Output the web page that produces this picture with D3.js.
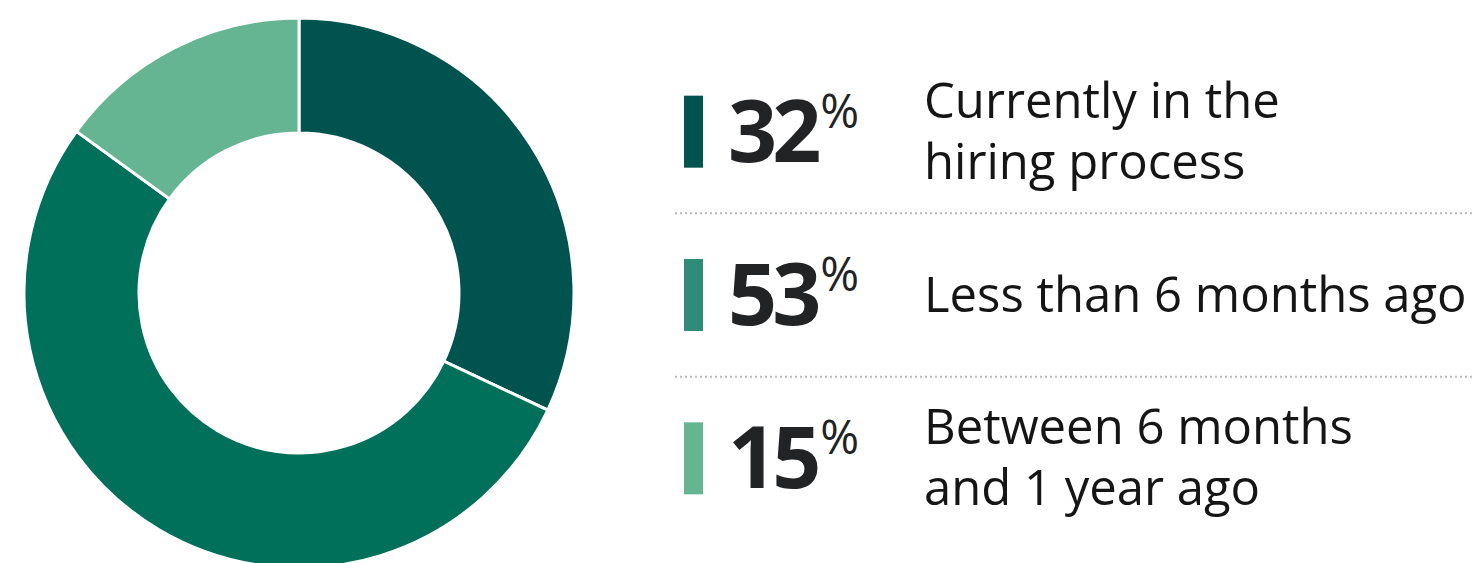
<!DOCTYPE html>
<html>
<head>
<meta charset="utf-8">
<script src="https://cdn.jsdelivr.net/npm/d3@7"></script>
<style>
  body { margin: 0; background: #fff; }
  svg { display: block; }
  text { font-family: "Open Sans", sans-serif; fill: #222325; }
  text.label { fill: #151515; }
</style>
</head>
<body>
<div id="chart"></div>
<script>
// data
const categories = ["Currently in the|hiring process", "Less than 6 months ago", "Between 6 months|and 1 year ago"]
const values = [32, 53, 15]
const sliceColors = ["#00534e", "#00705a", "#66b592"]
const keyColors = ["#00534e", "#2e8c78", "#66b592"]

const width = 1475
const height = 563

const svg = d3.select("#chart")
  .append("svg")
    .attr("width", width)
    .attr("height", height)

// donut
const cx = 299
const cy = 293
const outerR = 275
const innerR = 160

const pie = d3.pie().sort(null).value(d => d)
const arc = d3.arc().innerRadius(innerR).outerRadius(outerR)

svg.append("g")
  .attr("transform", "translate(" + cx + "," + cy + ")")
  .selectAll("path")
  .data(pie(values))
  .enter().append("path")
    .attr("d", arc)
    .attr("fill", (d, i) => sliceColors[i])
    .attr("stroke", "#fff")
    .attr("stroke-width", 3)

// legend rows
const rowY = d3.scaleBand()
  .domain(d3.range(values.length))
  .range([50, 540])

const legend = svg.append("g")

const rows = legend.selectAll("g.row")
  .data(values)
  .enter().append("g")
    .attr("class", "row")
    .attr("transform", (d, i) => "translate(0," + (rowY(i) + rowY.bandwidth() / 2) + ")")

rows.append("rect")
  .attr("x", 684)
  .attr("y", -36)
  .attr("width", 19)
  .attr("height", 72)
  .attr("fill", (d, i) => keyColors[i])

const num = rows.append("text")
  .attr("x", 728)
  .attr("y", 30)
  .style("font-weight", 700)
  .style("font-size", "86px")
  .style("letter-spacing", "-5px")
num.append("tspan").text(d => d)
num.append("tspan")
  .attr("dy", -34)
  .attr("dx", 4)
  .style("font-weight", 400)
  .style("font-size", "47px")
  .style("letter-spacing", "0px")
  .text("%")

rows.each(function(d, i) {
  const lines = categories[i].split("|")
  const t = d3.select(this).append("text")
    .attr("class", "label")
    .attr("x", 924)
    .style("font-size", "49px")
  lines.forEach((line, j) => {
    t.append("tspan")
      .attr("x", 924)
      .attr("y", lines.length === 1 ? 17 : (j === 0 ? -14 : 47))
      .text(line)
  })
})

// dotted separators
legend.selectAll("line.sep")
  .data(d3.range(1, values.length))
  .enter().append("line")
    .attr("class", "sep")
    .attr("x1", 675)
    .attr("x2", width)
    .attr("y1", i => rowY(i))
    .attr("y2", i => rowY(i))
    .attr("stroke", "#b8b8b8")
    .attr("stroke-width", 2)
    .attr("stroke-dasharray", "2,3")
</script>
</body>
</html>
